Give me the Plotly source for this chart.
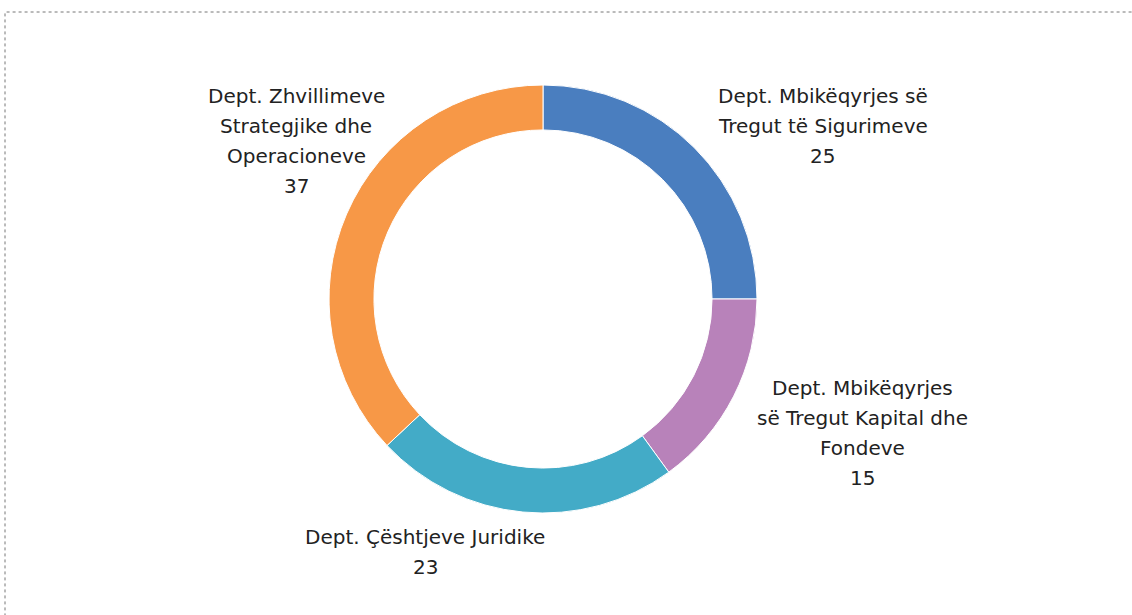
import plotly.graph_objects as go

labels = ["Dept. Mbikëqyrjes së Tregut të Sigurimeve",
          "Dept. Mbikëqyrjes së Tregut Kapital dhe Fondeve",
          "Dept. Çështjeve Juridike",
          "Dept. Zhvillimeve Strategjike dhe Operacioneve"]
values = [25, 15, 23, 37]
colors = ["#4A7EBF", "#B882BA", "#43ABC7", "#F79847"]
label_lines = [
    ["Dept. Mbikëqyrjes së", "Tregut të Sigurimeve"],
    ["Dept. Mbikëqyrjes", "së Tregut Kapital dhe", "Fondeve"],
    ["Dept. Çështjeve Juridike"],
    ["Dept. Zhvillimeve", "Strategjike dhe", "Operacioneve"],
]

W, H = 1132, 615
cx, cy, R = 543, 299, 214

fig = go.Figure(go.Pie(
    labels=labels, values=values, sort=False, direction="clockwise",
    rotation=0, hole=0.79, textinfo="none", hoverinfo="label+value",
    marker=dict(colors=colors, line=dict(color="white", width=1)),
    domain=dict(x=[(cx - R) / W, (cx + R) / W], y=[1 - (cy + R) / H, 1 - (cy - R) / H]),
    showlegend=False,
))

# label anchor (center x, first-line y) in pixels
anchors = [(823, 96), (862, 388), (425, 537), (296, 96)]
line_h = 30
annotations = []
for (ax, ay), lines, v in zip(anchors, label_lines, values):
    for i, t in enumerate(lines + [str(v)]):
        annotations.append(dict(
            x=ax / W, y=1 - (ay + i * line_h) / H, xref="paper", yref="paper",
            text=t, showarrow=False, xanchor="center", yanchor="middle",
            font=dict(family="DejaVu Sans", size=20, color="#222222"),
        ))

fig.update_layout(
    width=W, height=H, margin=dict(l=0, r=0, t=0, b=0),
    paper_bgcolor="white", plot_bgcolor="white",
    annotations=annotations,
    shapes=[dict(type="rect", xref="paper", yref="paper",
                 x0=5 / W, x1=1.02, y0=-0.02, y1=1 - 12 / H,
                 line=dict(color="#777777", width=1, dash="dot"))],
)

fig.write_html("out.html", config={"displayModeBar": False},
               post_script="document.body.style.margin='0';document.body.style.overflow='hidden';")
